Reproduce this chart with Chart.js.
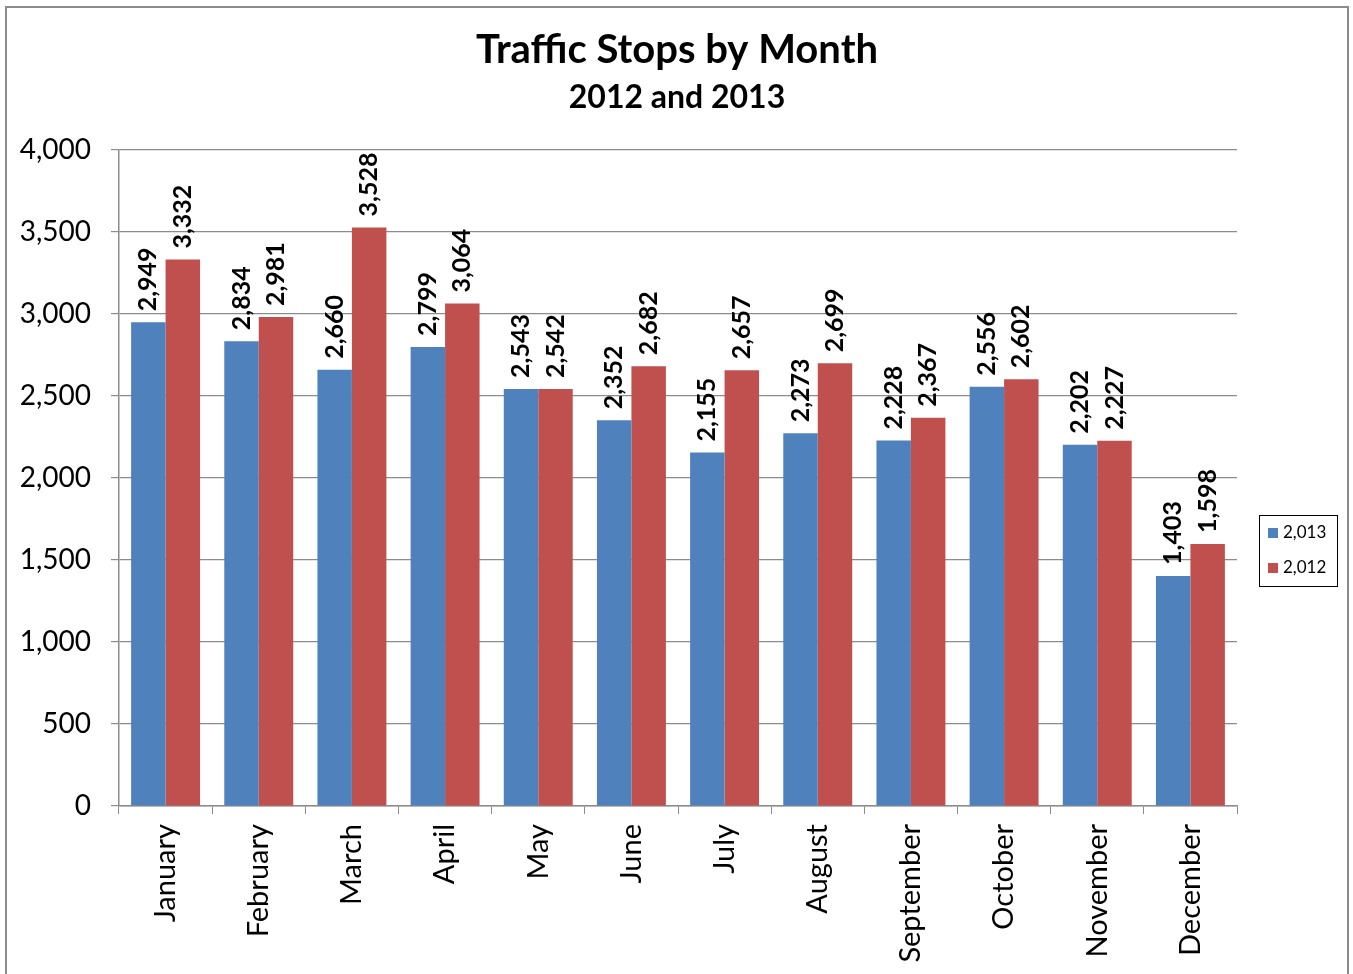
<!DOCTYPE html>
<html>
<head>
<meta charset="utf-8">
<script src="https://cdn.jsdelivr.net/npm/chart.js@4"></script>
<style>
html,body{margin:0;padding:0;background:#fff;}
#wrap{width:1353px;height:974px;position:relative;}
</style>
</head>
<body>
<div id="wrap"><canvas id="c" width="1353" height="974"></canvas></div>
<script>
const months = ["January","February","March","April","May","June","July","August","September","October","November","December"];
const series2013 = [2949,2834,2660,2799,2543,2352,2155,2273,2228,2556,2202,1403];
const series2012 = [3332,2981,3528,3064,2542,2682,2657,2699,2367,2602,2227,1598];
const seriesNames = ["2,013","2,012"];
const yTicks = [0,500,1000,1500,2000,2500,3000,3500,4000];
const titleText = "Traffic Stops by Month";
const subtitleText = "2012 and 2013";

const FONT = "Lato, 'Open Sans', sans-serif";
const fmt = v => v.toLocaleString('en-US');

const decor = {
  id: 'decor',
  beforeDraw(chart) {
    const ctx = chart.ctx;
    ctx.save();
    ctx.fillStyle = '#fff';
    ctx.fillRect(0,0,chart.width,chart.height);
    ctx.strokeStyle = '#8c8c8c';
    ctx.lineWidth = 2;
    ctx.strokeRect(6, 7, 1342, 970);
    ctx.restore();
  },
  afterDraw(chart) {
    const ctx = chart.ctx;
    ctx.save();
    ctx.fillStyle = '#000';
    ctx.textAlign = 'center';
    ctx.textBaseline = 'middle';
    ctx.font = "bold 40px " + FONT;
    ctx.fillText(titleText, 677, 50);
    ctx.font = "bold 32px " + FONT;
    ctx.fillText(subtitleText, 677, 98);
    ctx.font = "bold 25px " + FONT;
    ctx.textAlign = 'left';
    ctx.textBaseline = 'middle';
    chart.data.datasets.forEach((ds, di) => {
      const meta = chart.getDatasetMeta(di);
      meta.data.forEach((bar, i) => {
        ctx.save();
        ctx.translate(bar.x, bar.y - 11);
        ctx.rotate(-Math.PI/2);
        ctx.fillText(fmt(ds.data[i]), 0, 0);
        ctx.restore();
      });
    });
    const lx = 1259, ly = 515, lw = 78, lh = 71;
    ctx.strokeStyle = '#000';
    ctx.lineWidth = 1;
    ctx.strokeRect(lx + 0.5, ly + 0.5, lw, lh);
    ctx.font = "17px " + FONT;
    chart.data.datasets.forEach((ds, di) => {
      const cy = ly + 18 + di * 35;
      ctx.fillStyle = ds.backgroundColor;
      ctx.fillRect(lx + 9, cy - 5, 10, 10);
      ctx.fillStyle = '#000';
      ctx.fillText(ds.label, lx + 24, cy);
    });
    ctx.restore();
  }
};

new Chart(document.getElementById('c'), {
  type: 'bar',
  data: {
    labels: months,
    datasets: [
      { label: seriesNames[0], data: series2013, backgroundColor: '#4F81BD', categoryPercentage: 0.74, barPercentage: 1.0 },
      { label: seriesNames[1], data: series2012, backgroundColor: '#C0504D', categoryPercentage: 0.74, barPercentage: 1.0 }
    ]
  },
  options: {
    responsive: false,
    animation: false,
    layout: { padding: { left: 0, right: 116, top: 150, bottom: 0 } },
    plugins: { legend: { display: false }, title: { display: false }, tooltip: { enabled: false } },
    scales: {
      x: {
        afterFit(scale) { scale.height = 168; },
        grid: { offset: true, drawOnChartArea: false, tickLength: 8, color: '#8c8c8c', tickColor: '#8c8c8c' },
        border: { color: '#8c8c8c', width: 1.5 },
        ticks: { maxRotation: 90, minRotation: 90, padding: 10, color: '#000', font: { family: FONT, size: 29 } }
      },
      y: {
        min: 0, max: 4000,
        afterFit(scale) { scale.width = 119; },
        afterBuildTicks(scale) { scale.ticks = yTicks.map(v => ({ value: v })); },
        grid: { color: '#8c8c8c', tickLength: 8, tickColor: '#8c8c8c', lineWidth: 1.2 },
        border: { color: '#8c8c8c', width: 1.5 },
        ticks: { padding: 20, color: '#000', font: { family: FONT, size: 28 }, callback: v => fmt(v) }
      }
    }
  },
  plugins: [decor]
});
</script>
</body>
</html>
